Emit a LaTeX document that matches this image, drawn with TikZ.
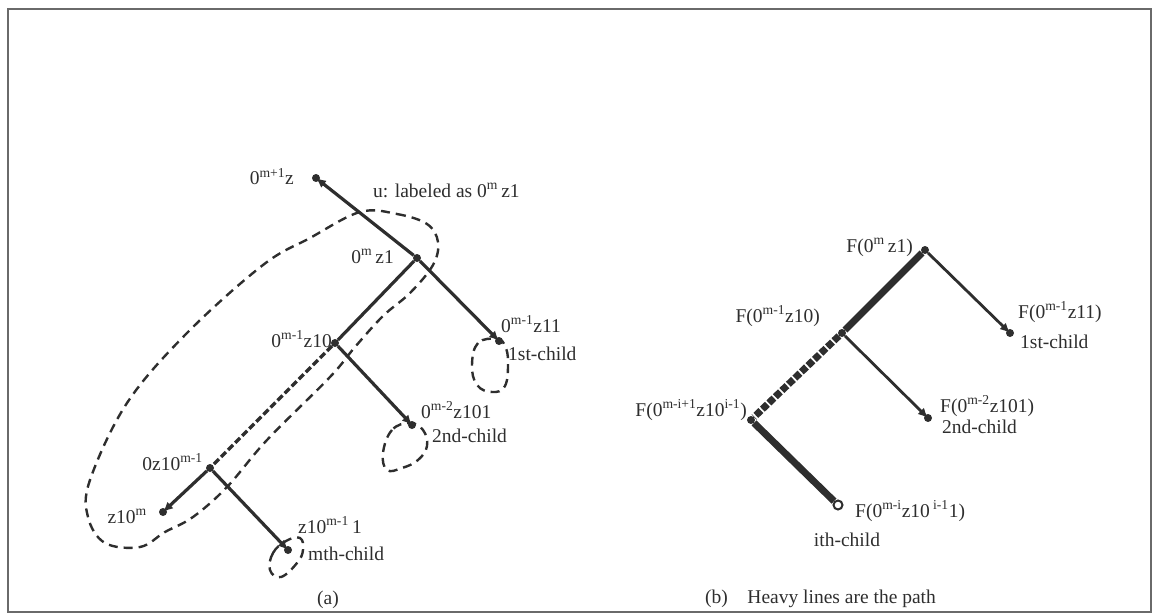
\documentclass[tikz,border=0pt]{standalone}
\usepackage{fontspec}
\setmainfont{Liberation Serif}
\usetikzlibrary{arrows.meta}
\definecolor{ink}{HTML}{2E2E2E}
\definecolor{framegray}{HTML}{6A6A6A}
\newcommand{\sps}[1]{\textsuperscript{#1}}

\begin{document}
\begin{tikzpicture}[x=1pt,y=-1pt,
  lbl/.style={font=\fontsize{19.5}{21}\selectfont, text=ink, inner sep=0pt},
  vtx/.style={circle, fill=ink, inner sep=0pt, minimum size=8pt},
  edge/.style={draw=ink, line width=3.2pt},
  tip/.style={-{Latex[length=10pt,width=9pt]}},
  loopline/.style={draw=ink, line width=2.4pt, dash pattern=on 9pt off 6pt},
  heavy/.style={draw=ink, line width=7pt},
  thinedge/.style={draw=ink, line width=2.8pt}]

\useasboundingbox (0,0) rectangle (1160,615);
\draw[framegray, line width=2.2pt] (8,9) rectangle (1151,612);

% ---------- (a) the subtree below u ----------
\node[vtx] (r)    at (316,178) {};
\node[vtx] (u)    at (417,258) {};
\node[vtx] (c1)   at (499,341) {};
\node[vtx] (v)    at (335,343) {};
\node[vtx] (c2)   at (412,425) {};
\node[vtx] (w)    at (210,468) {};
\node[vtx] (leaf) at (163,512) {};
\node[vtx] (cm)   at (288,550) {};

% arrow tips end on the dots so that tip and dot read as one blob
\draw[edge, tip] (u) -- (r.center);
\draw[edge, tip] (u) -- (c1.center);
\draw[edge] (u) -- (v);
\draw[edge, tip] (v) -- (c2.center);
\draw[edge, dash pattern=on 7pt off 3pt] (v) -- (w);
\draw[edge, tip] (w) -- (leaf.center);
\draw[edge, tip] (w) -- (cm.center);

% dashed region around the leftmost path
\draw[loopline] plot[smooth cycle, tension=0.6] coordinates {
  (360,212) (397,214) (427,224) (438,242) (433,265) (410,293) (383,316)
  (355,347) (330,377) (267,440) (227,487) (193,517) (165,532) (140,547)
  (105,543) (88,517) (90,480) (127,403) (187,333) (263,265) (310,238)};
% dashed loops at the children
\draw[loopline] plot[smooth cycle, tension=0.7] coordinates {
  (497,339) (478,343) (472,365) (477,385) (492,392) (505,386) (508,362) (505,346)};
\draw[loopline] plot[smooth cycle, tension=0.7] coordinates {
  (410,423) (392,430) (383,453) (387,470) (402,468) (418,460) (427,446) (423,430)};
\draw[loopline] plot[smooth cycle, tension=0.7] coordinates {
  (286,541) (273,553) (270,570) (281,577) (297,563) (303,550) (300,538)};

\node[lbl, anchor=base east] (lr)  at (294,185) {0\sps{m+1}z};
\node[lbl, anchor=base west] (lu)  at (373,197) {u: labeled as 0\sps{m}\,z1};
\node[lbl, anchor=base east] (lu2) at (394,263) {0\sps{m}\,z1};
\node[lbl, anchor=base east] (lv)  at (332,347) {0\sps{m-1}z10};
\node[lbl, anchor=base west] (lc1) at (501,332) {0\sps{m-1}z11};
\node[lbl, anchor=base west] (lc1b) at (508,360) {1st-child};
\node[lbl, anchor=base west] (lc2) at (421,418) {0\sps{m-2}z101};
\node[lbl, anchor=base west] (lc2b) at (432,442) {2nd-child};
\node[lbl, anchor=base east] (lw)  at (203,470) {0z10\sps{m-1}};
\node[lbl, anchor=base east] (ll)  at (147,523) {z10\sps{m}};
\node[lbl, anchor=base west] (lcm) at (298,533) {z10\sps{m-1}\,1};
\node[lbl, anchor=base west] (lcmb) at (308,560) {mth-child};
\node[lbl, anchor=base] (capa) at (328,604) {(a)};

% ---------- (b) the path in the F tree ----------
\node[vtx] (F1)   at (925,250) {};
\node[vtx] (F2)   at (842,333) {};
\node[vtx] (F3)   at (751,420) {};
\node[vtx] (F11)  at (1010,333) {};
\node[vtx] (F101) at (928,418) {};
\node[circle, draw=ink, line width=2pt, fill=white, inner sep=0pt, minimum size=9pt] (Fi) at (838,505) {};

\draw[heavy] (F1) -- (F2);
\draw[heavy, dash pattern=on 7pt off 2pt] (F2) -- (F3);
\draw[heavy] (F3) -- (Fi);
\draw[thinedge, tip] (F1) -- (F11.center);
\draw[thinedge, tip] (F2) -- (F101.center);

\node[lbl, anchor=base east] (lF1)  at (913,252) {F(0\sps{m}\,z1)};
\node[lbl, anchor=base east] (lF2)  at (820,322) {F(0\sps{m-1}z10)};
\node[lbl, anchor=base west] (lF11) at (1018,318) {F(0\sps{m-1}z11)};
\node[lbl, anchor=base west] (lF11b) at (1020,348) {1st-child};
\node[lbl, anchor=base east] (lF3)  at (747,416) {F(0\sps{m-i+1}z10\sps{i-1})};
\node[lbl, anchor=base west] (lF101) at (940,412) {F(0\sps{m-2}z101)};
\node[lbl, anchor=base west] (lF101b) at (942,433) {2nd-child};
\node[lbl, anchor=base west] (lFi)  at (855,517) {F(0\sps{m-i}z10\,\sps{i-1}1)};
\node[lbl, anchor=base] (lFib) at (847,546) {ith-child};
\node[lbl, anchor=base west] (capb) at (705,603) {(b)\quad Heavy lines are the path};
\end{tikzpicture}
\end{document}
